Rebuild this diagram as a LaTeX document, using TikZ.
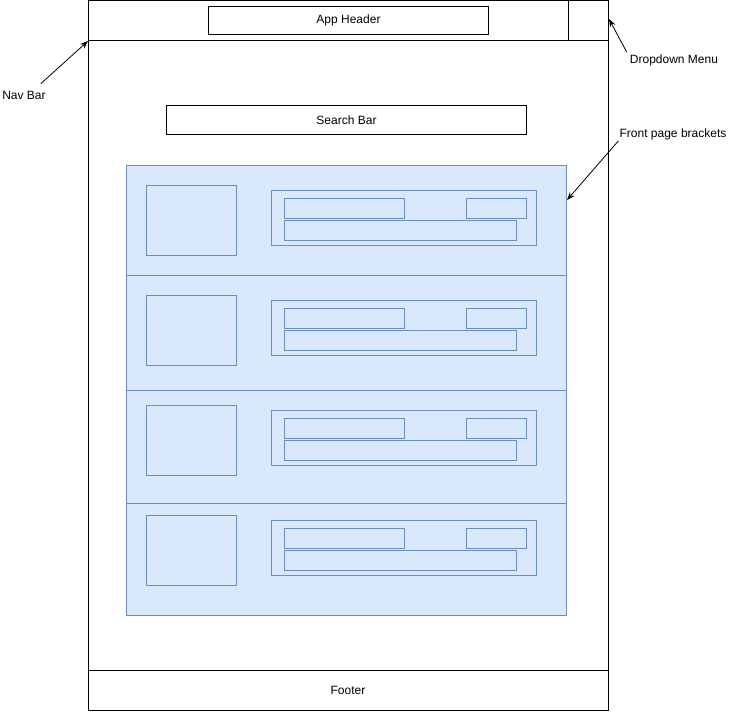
\documentclass[tikz,border=0pt]{standalone}
\usepackage{fontspec}
\setmainfont{Liberation Sans}
\usetikzlibrary{arrows.meta}
\definecolor{bracketfill}{HTML}{DAE8FC}
\definecolor{bracketline}{HTML}{6C8EBF}
\tikzset{
  wire/.style={black, line width=1pt},
  textbox/.style={draw, line width=1pt, inner sep=0pt, anchor=north west,
    font=\fontsize{12}{14}\selectfont},
  bluebox/.style={draw=bracketline, line width=1pt},
  callout/.style={-{Stealth[length=8pt,width=6pt]}, line width=0.8pt},
  lbl/.style={font=\fontsize{12}{14}\selectfont, inner sep=1pt}
}
\begin{document}
\begin{tikzpicture}[x=1pt,y=-1pt]
  \useasboundingbox (0,0) rectangle (739,712);
  % page frame
  \draw[wire] (88,0) rectangle (608,710);
  \draw[wire] (88,40) -- (608,40);
  \draw[wire] (568,0) -- (568,40);
  \draw[wire] (88,670) -- (608,670);
  \node[textbox, minimum width=280pt, minimum height=28pt] (header) at (208,6) {App Header};
  \node[textbox, minimum width=360pt, minimum height=29pt] (search) at (166,105) {Search Bar};
  \node[lbl] (footer) at (348,690) {Footer};
  % brackets
  \draw[bluebox, fill=bracketfill] (126,165) rectangle (566,615);
  \foreach \y in {275,390,503}
    \draw[bluebox] (126,\y) -- (566,\y);
  \foreach \i in {0,...,3} {
    \pgfmathsetmacro\rowtop{185+110*\i}
    \draw[bluebox] (146,\rowtop) rectangle ++(90,70);
    \draw[bluebox] (271,\rowtop+5) rectangle ++(265,55);
    \draw[bluebox] (284,\rowtop+13) rectangle ++(120,20);
    \draw[bluebox] (466,\rowtop+13) rectangle ++(60,20);
    \draw[bluebox] (284,\rowtop+35) rectangle ++(232,20);
  }
  % callouts
  \coordinate (navtip) at (88,41);
  \coordinate (droptip) at (609,19);
  \coordinate (brackettip) at (567,200);
  \node[lbl] (navlbl) at (24,95) {Nav Bar};
  \node[lbl] (droplbl) at (674,60) {Dropdown Menu};
  \node[lbl] (bracketlbl) at (673,134) {Front page brackets};
  \draw[callout] (navlbl.north east) ++(-6,-6) -- (navtip);
  \draw[callout] (droplbl.north west) ++(-2,-1) -- (droptip);
  \draw[callout] (bracketlbl.south west) -- (brackettip);
\end{tikzpicture}
\end{document}
